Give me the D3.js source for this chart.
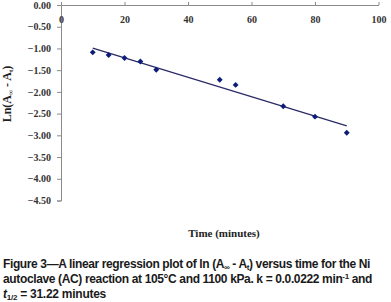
<!DOCTYPE html>
<html>
<head>
<meta charset="utf-8">
<script src="https://cdn.jsdelivr.net/npm/d3@7"></script>
<style>
body { margin: 0; background: #fff; }
svg { display: block; }
</style>
</head>
<body>
<script>
// values
var times = [10, 15, 20, 25, 30, 50, 55, 70, 80, 90];
var lnValues = [-1.09, -1.15, -1.22, -1.30, -1.49, -1.72, -1.84, -2.33, -2.57, -2.94];
var xTicks = [0, 20, 40, 60, 80, 100];
var yTicks = [0, -0.5, -1, -1.5, -2, -2.5, -3, -3.5, -4, -4.5];

var width = 391, height = 302;

var svg = d3.select("body").append("svg")
  .attr("width", width)
  .attr("height", height);

var x = d3.scaleLinear().domain([0, 100]).range([61, 378.5]);
var y = d3.scaleLinear().domain([0, -4.5]).range([5, 200.5]);

var serif = "'Liberation Serif', 'Times New Roman', serif";
var sans = "'Liberation Sans', Arial, sans-serif";

// y axis
var yAxis = d3.axisLeft(y)
  .tickValues(yTicks)
  .tickSize(4)
  .tickPadding(6)
  .tickFormat(d3.format(".2f"));

var gy = svg.append("g")
  .attr("transform", "translate(" + x(0) + ",0)")
  .call(yAxis);
gy.select(".domain").attr("stroke", "#8a8a8a");
gy.selectAll(".tick line").attr("stroke", "#8a8a8a");
gy.selectAll("text")
  .attr("font-family", serif)
  .attr("font-weight", "bold")
  .attr("font-size", 10)
  .attr("fill", "#333");

// x axis sits at y = 0, ticks point up, labels below
var xAxis = d3.axisBottom(x)
  .tickValues(xTicks)
  .tickSizeInner(-3)
  .tickSizeOuter(0)
  .tickPadding(11);

var gx = svg.append("g")
  .attr("transform", "translate(0," + y(0) + ")")
  .call(xAxis);
gx.select(".domain").attr("stroke", "#8a8a8a");
gx.selectAll(".tick line").attr("stroke", "#8a8a8a");
gx.selectAll("text")
  .attr("font-family", serif)
  .attr("font-weight", "bold")
  .attr("font-size", 10)
  .attr("fill", "#333");

// linear regression trendline
var pts = times.map(function(t, i) { return {t: t, v: lnValues[i]}; });
var mx = d3.mean(pts, function(d) { return d.t; });
var my = d3.mean(pts, function(d) { return d.v; });
var sxy = d3.sum(pts, function(d) { return (d.t - mx) * (d.v - my); });
var sxx = d3.sum(pts, function(d) { return (d.t - mx) * (d.t - mx); });
var slope = sxy / sxx, icpt = my - slope * mx;
var tExt = d3.extent(times);

svg.append("line")
  .attr("x1", x(tExt[0])).attr("y1", y(icpt + slope * tExt[0]))
  .attr("x2", x(tExt[1])).attr("y2", y(icpt + slope * tExt[1]))
  .attr("stroke", "#2a2a66")
  .attr("stroke-width", 1.2);

// diamond markers
svg.selectAll(".pt")
  .data(pts)
  .enter().append("path")
  .attr("class", "pt")
  .attr("d", d3.symbol().type(d3.symbolDiamond2).size(22))
  .attr("transform", function(d) { return "translate(" + x(d.t) + "," + y(d.v) + ")"; })
  .attr("fill", "#0b1d78");

// axis titles
var yl = svg.append("text")
  .attr("transform", "translate(11,94) rotate(-90)")
  .attr("text-anchor", "middle")
  .attr("font-family", serif)
  .attr("font-weight", "bold")
  .attr("font-size", 12)
  .attr("fill", "#222");
yl.append("tspan").text("Ln(A");
yl.append("tspan").attr("font-size", 7).attr("dy", 2).text("∞");
yl.append("tspan").attr("dy", -2).text(" - A");
yl.append("tspan").attr("font-size", 7).attr("dy", 2).text("t");
yl.append("tspan").attr("dy", -2).text(")");

svg.append("text")
  .attr("x", 224).attr("y", 237)
  .attr("text-anchor", "middle")
  .attr("font-family", serif)
  .attr("font-weight", "bold")
  .attr("font-size", 11)
  .attr("fill", "#222")
  .text("Time (minutes)");

// caption
function capLine(yy, parts, targetRight) {
  var t = svg.append("text")
    .attr("x", 3).attr("y", yy)
    .attr("font-family", sans)
    .attr("font-weight", "bold")
    .attr("font-size", 12)
    .attr("fill", "#1a1a1a");
  var n = 0;
  parts.forEach(function(p) {
    var s = t.append("tspan").text(p.s);
    if (p.sub) s.attr("font-size", 8).attr("dy", 2);
    if (p.sup) s.attr("font-size", 8).attr("dy", -4);
    if (p.back) s.attr("dy", p.back);
    if (p.it) s.attr("font-style", "italic");
    n += p.s.length;
  });
  var w = t.node().getComputedTextLength();
  t.attr("letter-spacing", ((targetRight - 3) - w) / n);
}

capLine(268, [
  {s: "Figure 3\u2014A linear regression plot of ln (A"},
  {s: "\u221e", sub: true},
  {s: " - A", back: -2},
  {s: "t", sub: true},
  {s: ") versus time for the Ni", back: -2}
], 370);
capLine(283, [
  {s: "autoclave (AC) reaction at 105\u00b0C and 1100 kPa. k = 0.0.0222 min"},
  {s: "-1", sup: true},
  {s: " and", back: 4}
], 372);
capLine(298, [
  {s: "t", it: true},
  {s: "1/2", sub: true},
  {s: " = 31.22 minutes", back: -2}
], 106);
</script>
</body>
</html>
